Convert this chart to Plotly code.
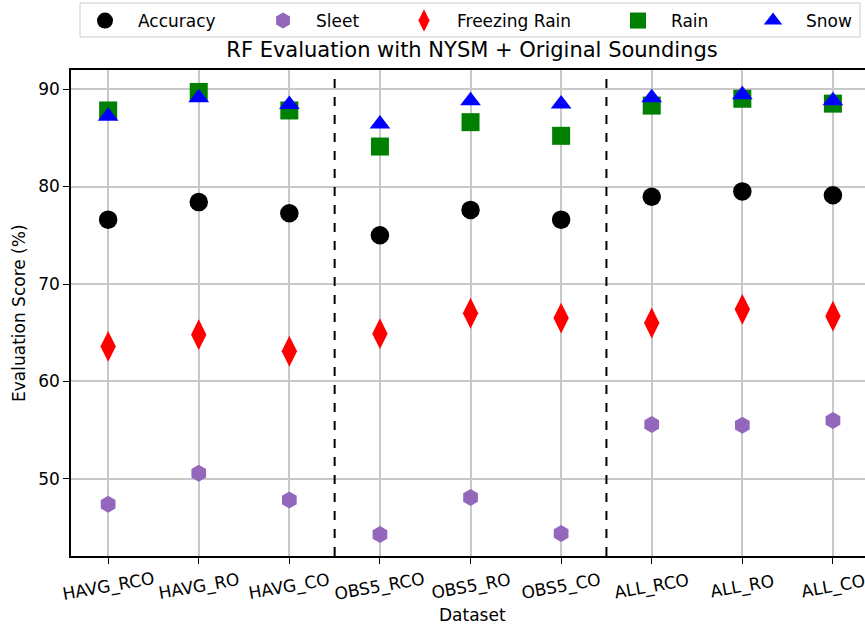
import plotly.graph_objects as go

datasets = ["HAVG_RCO", "HAVG_RO", "HAVG_CO", "OBS5_RCO", "OBS5_RO", "OBS5_CO", "ALL_RCO", "ALL_RO", "ALL_CO"]
accuracy = [76.6, 78.4, 77.25, 75.0, 77.6, 76.6, 78.95, 79.5, 79.1]
sleet = [47.4, 50.6, 47.85, 44.3, 48.1, 44.4, 55.6, 55.5, 56.0]
freezing_rain = [63.6, 64.8, 63.1, 64.9, 67.0, 66.5, 66.0, 67.4, 66.7]
rain = [87.8, 89.7, 87.8, 84.1, 86.6, 85.2, 88.3, 89.0, 88.5]
snow = [87.2, 89.1, 88.4, 86.4, 88.8, 88.45, 89.1, 89.4, 88.8]
y_ticks = [50, 60, 70, 80, 90]

FONT = "DejaVu Sans"
W, H = 865, 629
L, R, T, B = 71, 0, 70, 73
PW = W - L - R
PH = H - T - B

def px_x(px):
    return (px - L) / PW

def px_y(py):
    return (H - B - py) / PH

series = [
    ("Accuracy", accuracy, dict(symbol="circle", color="black", size=18.5), 105),
    ("Sleet", sleet, dict(symbol="hexagon", color="#9467bd", size=17), 283),
    ("Freezing Rain", freezing_rain, dict(symbol="diamond-tall", color="red", size=22), 424),
    ("Rain", rain, dict(symbol="square", color="green", size=18), 638),
    ("Snow", snow, dict(symbol="triangle-up", color="blue", size=18), 773),
]

ITEMW = 56
fig = go.Figure()
layout_legends = {}
for i, (name, vals, mk, lx) in enumerate(series):
    lname = "legend" if i == 0 else f"legend{i+1}"
    fig.add_trace(go.Scatter(
        x=datasets, y=vals, mode="markers", name=name,
        marker=dict(symbol=mk["symbol"], color=mk["color"], size=mk["size"], line=dict(width=0)),
        legend=lname, showlegend=True,
    ))
    layout_legends[lname] = dict(
        xref="container", yref="container",
        x=(lx - 33) / W, xanchor="left", y=1 - 21 / H, yanchor="middle",
        bgcolor="rgba(0,0,0,0)", borderwidth=0, itemwidth=ITEMW,
        font=dict(family=FONT, size=17, color="black"),
    )

# dashed separators between dataset groups
for xv in [2.5, 5.5]:
    fig.add_shape(type="line", xref="x", yref="paper", x0=xv, x1=xv, y0=0, y1=1,
                  line=dict(color="black", width=2, dash="dash"))

# legend frame
fig.add_shape(type="rect", xref="paper", yref="paper",
              x0=px_x(80), x1=px_x(860), y0=px_y(37), y1=px_y(3),
              line=dict(color="#cccccc", width=1), fillcolor="rgba(0,0,0,0)", layer="below")

# centred, slightly rotated category labels
for cat in datasets:
    fig.add_annotation(x=cat, xref="x", y=px_y(586), yref="paper", text=cat,
                       showarrow=False, textangle=-10, xanchor="center", yanchor="middle",
                       font=dict(family=FONT, size=17, color="black"))

# axis titles
fig.add_annotation(x=px_x(472), xref="paper", y=px_y(615), yref="paper", text="Dataset",
                   showarrow=False, xanchor="center", yanchor="middle",
                   font=dict(family=FONT, size=17, color="black"))
fig.add_annotation(x=px_x(19), xref="paper", y=px_y(313), yref="paper", text="Evaluation Score (%)",
                   showarrow=False, textangle=-90, xanchor="center", yanchor="middle",
                   font=dict(family=FONT, size=17, color="black"))

fig.update_layout(
    width=W, height=H,
    margin=dict(l=L, r=R, t=T, b=B, autoexpand=False),
    showlegend=True,
    paper_bgcolor="white", plot_bgcolor="white",
    font=dict(family=FONT, size=17, color="black"),
    title=dict(text="RF Evaluation with NYSM + Original Soundings", x=px_x(472), xref="paper",
               xanchor="center", y=1 - 50 / H, yanchor="middle",
               font=dict(family=FONT, size=21, color="black")),
    **layout_legends,
)
fig.update_xaxes(
    range=[-0.41, 8.354], type="category", automargin=False,
    showgrid=True, gridcolor="#c8c8c8", gridwidth=1.5,
    showline=True, linecolor="black", linewidth=1.5, mirror=True,
    ticks="outside", ticklen=6, tickcolor="black", tickwidth=1.2,
    showticklabels=False,
)
fig.update_yaxes(
    range=[42.1, 91.95], tickvals=y_ticks, automargin=False,
    showgrid=True, gridcolor="#c8c8c8", gridwidth=1.5, zeroline=False,
    showline=True, linecolor="black", linewidth=1.5, mirror=True,
    ticks="outside", ticklen=6, tickcolor="black", tickwidth=1.2,
    tickfont=dict(family=FONT, size=17),
)

fig.write_html("out.html", config={"displayModeBar": False},
               post_script="document.body.style.margin='0';")
